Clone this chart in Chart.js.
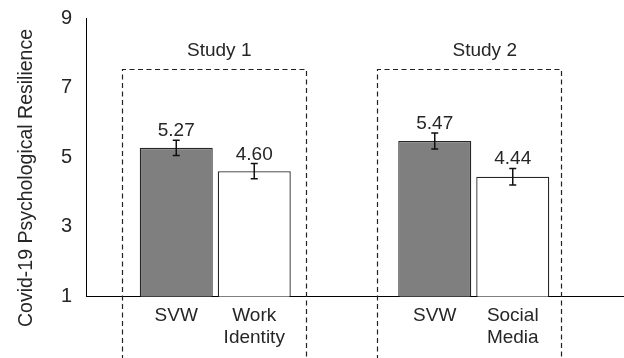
<!DOCTYPE html>
<html>
<head>
<meta charset="utf-8">
<script src="https://cdn.jsdelivr.net/npm/chart.js@4"></script>
<style>
  html, body { margin: 0; padding: 0; background: #ffffff; }
  #wrap { width: 624px; height: 358px; position: relative; }
</style>
</head>
<body>
<div id="wrap"><canvas id="c"></canvas></div>
<script>
const studies = ['Study 1', 'Study 2'];
const svwLabels = ['SVW', 'SVW'];
const comparisonLabels = ['Work Identity', 'Social Media'];
const svwMeans = [5.27, 5.47];
const comparisonMeans = [4.60, 4.44];
const svwErrors = [0.22, 0.23];
const comparisonErrors = [0.22, 0.24];
const yTickValues = [1, 3, 5, 7, 9];
const yAxisTitle = 'Covid-19 Psychological Resilience';

const FONT = "'Liberation Sans', Arial, Helvetica, sans-serif";
const TEXT = '#262626';
const BOX_SHIFT = [0, -4];
const TITLE_SHIFT = [4, 11];

const annotate = {
  id: 'annotate',
  afterDraw(chart) {
    const ctx = chart.ctx;
    const area = chart.chartArea;
    const y = chart.scales.y;
    ctx.save();

    // extend x-axis line to right edge (aligned like Chart.js border)
    const axisY = Math.round(area.bottom - 0.5) + 0.5;
    ctx.strokeStyle = '#000';
    ctx.lineWidth = 1;
    ctx.beginPath();
    ctx.moveTo(area.right - 2, axisY);
    ctx.lineTo(chart.width, axisY);
    ctx.stroke();

    const metas = chart.data.datasets.map((d, i) => chart.getDatasetMeta(i));

    // error bars, value labels, category labels
    chart.data.datasets.forEach((ds, di) => {
      metas[di].data.forEach((bar, i) => {
        const v = ds.data[i];
        const e = ds.errors[i];
        const yTop = y.getPixelForValue(v + e);
        const yBot = y.getPixelForValue(v - e);
        ctx.strokeStyle = '#111';
        ctx.lineWidth = 1.5;
        ctx.beginPath();
        ctx.moveTo(bar.x, yTop); ctx.lineTo(bar.x, yBot);
        ctx.moveTo(bar.x - 3.5, yTop); ctx.lineTo(bar.x + 3.5, yTop);
        ctx.moveTo(bar.x - 3.5, yBot); ctx.lineTo(bar.x + 3.5, yBot);
        ctx.stroke();

        ctx.fillStyle = TEXT;
        ctx.font = '19px ' + FONT;
        ctx.textAlign = 'center';
        ctx.textBaseline = 'alphabetic';
        ctx.fillText(v.toFixed(2), bar.x, yTop - 4);

        const lines = ds.catLabels[i].split(' ');
        lines.forEach((ln, li) => {
          ctx.textBaseline = 'middle';
          ctx.fillText(ln, bar.x, area.bottom + 19 + li * 22);
        });
      });
    });

    // dashed study boxes + study titles
    studies.forEach((s, i) => {
      const b0 = metas[0].data[i];
      const b1 = metas[1].data[i];
      const center = (b0.x + b1.x) / 2;
      const left = Math.round(center - 93 + BOX_SHIFT[i]) + 0.5;
      const right = Math.round(center + 91 + BOX_SHIFT[i]) + 0.5;
      const top = Math.round(area.top + 51) + 0.5;
      ctx.strokeStyle = '#222';
      ctx.lineWidth = 1.2;
      ctx.setLineDash([5, 3.5]);
      ctx.beginPath();
      ctx.moveTo(left, chart.height + 2);
      ctx.lineTo(left, top);
      ctx.lineTo(right, top);
      ctx.lineTo(right, chart.height + 2);
      ctx.stroke();
      ctx.setLineDash([]);

      ctx.fillStyle = TEXT;
      ctx.font = '19px ' + FONT;
      ctx.textAlign = 'center';
      ctx.textBaseline = 'middle';
      ctx.fillText(s, center + TITLE_SHIFT[i], area.top + 33);
    });

    // y-axis title
    ctx.save();
    ctx.translate(27, 178);
    ctx.rotate(-Math.PI / 2);
    ctx.fillStyle = TEXT;
    ctx.font = '19.5px ' + FONT;
    ctx.textAlign = 'center';
    ctx.textBaseline = 'middle';
    ctx.fillText(yAxisTitle, 0, 0);
    ctx.restore();

    ctx.restore();
  }
};

new Chart(document.getElementById('c'), {
  type: 'bar',
  data: {
    labels: studies,
    datasets: [
      {
        label: 'SVW',
        data: svwMeans,
        errors: svwErrors,
        catLabels: svwLabels,
        backgroundColor: '#7f7f7f',
        borderColor: '#262626',
        borderWidth: 1.3,
        categoryPercentage: 0.6035,
        barPercentage: 0.936
      },
      {
        label: 'Comparison',
        data: comparisonMeans,
        errors: comparisonErrors,
        catLabels: comparisonLabels,
        backgroundColor: '#ffffff',
        borderColor: '#262626',
        borderWidth: 1.3,
        categoryPercentage: 0.6035,
        barPercentage: 0.936
      }
    ]
  },
  options: {
    responsive: true,
    maintainAspectRatio: false,
    animation: false,
    layout: { padding: { top: 18, right: 21, bottom: 61.5, left: 0 } },
    plugins: { legend: { display: false }, tooltip: { enabled: false } },
    scales: {
      x: {
        grid: { display: false, drawTicks: false },
        border: { display: true, color: '#000', width: 1 },
        ticks: { display: false }
      },
      y: {
        min: 1,
        max: 9,
        afterBuildTicks(scale) { scale.ticks = yTickValues.map(v => ({ value: v })); },
        afterFit(scale) { scale.width = 86; },
        grid: {
          display: true,
          drawOnChartArea: false,
          drawTicks: true,
          tickLength: 14,
          color: 'rgba(0,0,0,0)',
          tickColor: 'rgba(0,0,0,0)'
        },
        border: { display: true, color: '#000', width: 1 },
        ticks: {
          padding: 0,
          color: TEXT,
          font: { family: FONT, size: 20 }
        }
      }
    }
  },
  plugins: [annotate]
});
</script>
</body>
</html>
